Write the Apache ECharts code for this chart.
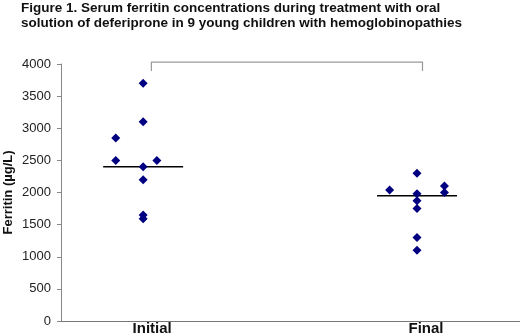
<!DOCTYPE html>
<html>
<head>
<meta charset="utf-8">
<script src="https://cdn.jsdelivr.net/npm/echarts@6/dist/echarts.min.js"></script>
<style>
  html, body { margin: 0; padding: 0; background: #fff; }
  #chart { width: 520px; height: 335px; }
</style>
</head>
<body>
<div id="chart"></div>
<script>
// groups (x position on the value axis)
const groups = ['Initial', 'Final']
const groupPos = [0, 1]

// serum ferritin values (µg/L)
const initialValues = [3700, 3100, 2850, 2500, 2500, 2400, 2200, 1650, 1590]
const initialJitter = [0, 0, -0.1, -0.1, 0.05, 0, 0, 0, 0]
const finalValues = [2300, 2040, 2100, 2000, 1980, 1870, 1750, 1300, 1100]
const finalJitter = [0, -0.1, 0.1, 0.1, 0, 0, 0, 0, 0]

// group medians drawn as short horizontal lines
const medians = [2400, 1950]
const medianHalfWidth = 0.146

// significance bracket
const bracketX = [0.03, 1.02]
const bracketY = [3890, 4030]
const pText = '0.0032'

const yTicks = { min: 0, max: 4000, interval: 500 }

function points(pos, values, jitter) {
  return values.map((v, i) => [pos + jitter[i], v])
}

const medianSeries = medians.map((m, i) => ({
  type: 'line',
  symbol: 'none',
  silent: true,
  lineStyle: { color: '#000', width: 1.5 },
  data: [[groupPos[i] - medianHalfWidth, m], [groupPos[i] + medianHalfWidth, m]],
  z: 1
}))

const chart = echarts.init(document.getElementById('chart'))
const option = {
  animation: false,
  title: {
    text: 'Figure 1. Serum ferritin concentrations during treatment with oral\nsolution of deferiprone in 9 young children with hemoglobinopathies',
    left: 16,
    top: 0,
    padding: [1, 5],
    textStyle: {
      fontFamily: 'Liberation Sans, Arial',
      fontSize: 13.5,
      fontWeight: 'bold',
      lineHeight: 15,
      color: '#111'
    }
  },
  grid: { left: 61, right: 0, top: 64, bottom: 14, containLabel: false, outerBoundsMode: 'none' },
  xAxis: {
    type: 'value',
    min: -0.3,
    max: 1.376,
    splitLine: { show: false },
    axisTick: { show: false },
    axisLine: { onZero: false, lineStyle: { color: '#777', width: 1 } },
    axisLabel: {
      customValues: groupPos,
      formatter: v => groups[groupPos.indexOf(Math.round(v))] || '',
      margin: 0,
      padding: [0, 0, 0, 18],
      fontFamily: 'Liberation Sans, Arial',
      fontSize: 15,
      fontWeight: 'bold',
      color: '#111'
    }
  },
  yAxis: {
    type: 'value',
    min: yTicks.min,
    max: yTicks.max,
    interval: yTicks.interval,
    name: 'Ferritin (µg/L)',
    nameLocation: 'middle',
    nameGap: 46,
    nameMoveOverlap: false,
    nameTextStyle: {
      fontFamily: 'Liberation Sans, Arial',
      fontSize: 13,
      fontWeight: 'bold',
      color: '#111'
    },
    splitLine: { show: false },
    axisLine: { show: true, onZero: false, lineStyle: { color: '#888' } },
    axisTick: { show: true, length: 4, lineStyle: { color: '#888' } },
    axisLabel: {
      margin: 10,
      formatter: v => String(v),
      fontFamily: 'Liberation Sans, Arial',
      fontSize: 13,
      color: '#222'
    }
  },
  series: [
    ...medianSeries,
    {
      type: 'scatter',
      symbol: 'diamond',
      symbolSize: 9,
      itemStyle: { color: '#000080', opacity: 1 },
      data: points(groupPos[0], initialValues, initialJitter),
      z: 3
    },
    {
      type: 'scatter',
      symbol: 'diamond',
      symbolSize: 9,
      itemStyle: { color: '#000080', opacity: 1 },
      data: points(groupPos[1], finalValues, finalJitter),
      z: 3
    },
    {
      type: 'line',
      symbol: 'none',
      clip: false,
      silent: true,
      lineStyle: { color: '#999', width: 1.2 },
      data: [
        [bracketX[0], bracketY[0]],
        [bracketX[0], bracketY[1]],
        [bracketX[1], bracketY[1]],
        [bracketX[1], bracketY[0]]
      ]
    },
    {
      type: 'scatter',
      symbol: 'none',
      clip: false,
      silent: true,
      data: [[(bracketX[0] + bracketX[1]) / 2, bracketY[1]]],
      label: {
        show: true,
        position: 'top',
        distance: 9,
        formatter: '{i|P} = ' + pText,
        fontFamily: 'Liberation Sans, Arial',
        fontSize: 13,
        color: '#111',
        rich: {
          i: { fontStyle: 'italic', fontFamily: 'Liberation Sans, Arial', fontSize: 13, color: '#111' }
        }
      }
    }
  ]
}
chart.setOption(option)
</script>
</body>
</html>
